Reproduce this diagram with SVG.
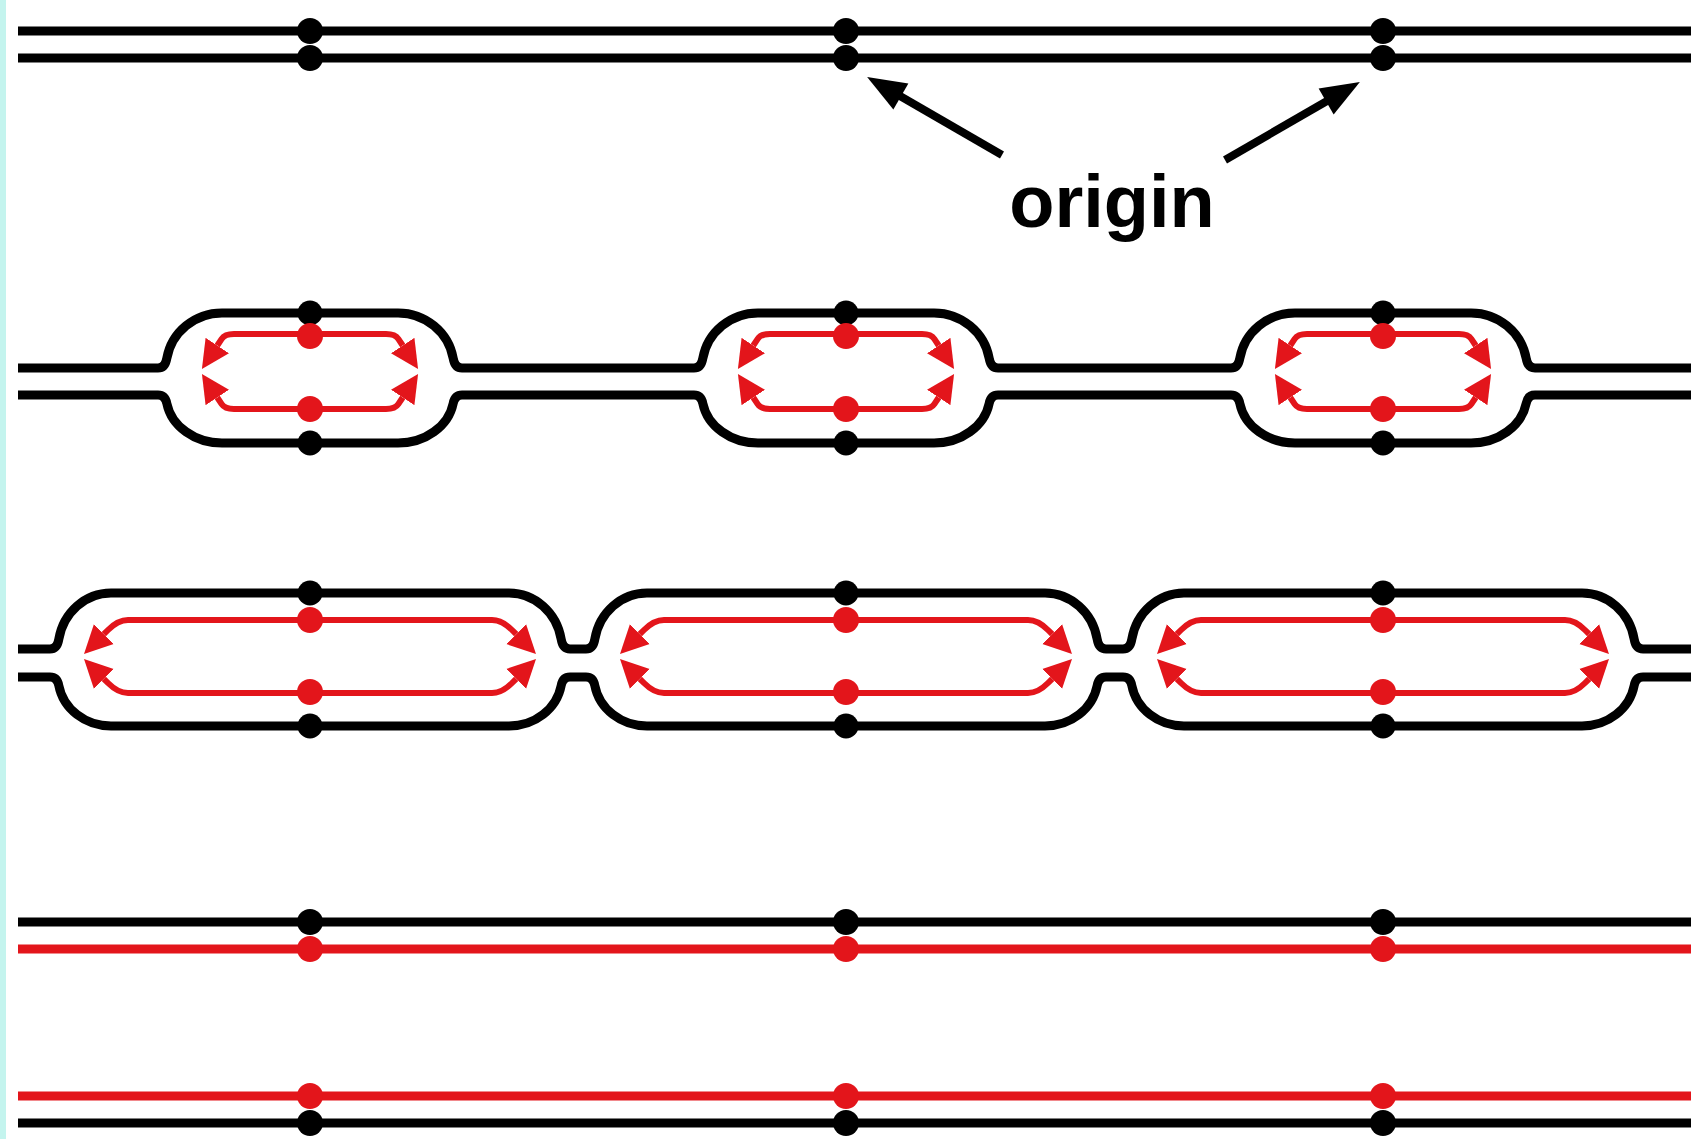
<svg xmlns="http://www.w3.org/2000/svg" width="1691" height="1139" viewBox="0 0 1691 1139">
<style>
.blk{fill:none;stroke:#000;stroke-width:9}
.red{fill:none;stroke:#e3151b;stroke-width:9}
.rl{fill:none;stroke:#e3151b;stroke-width:6;marker-end:url(#ra)}
.bd{fill:#000}
.rd{fill:#e3151b}
.arr{fill:none;stroke:#000;stroke-width:8;marker-end:url(#ba)}
.lbl{font-family:"Liberation Sans",Arial,sans-serif;font-weight:bold;font-size:74px;fill:#000}
</style>
<defs>
<marker id="ra" markerUnits="userSpaceOnUse" viewBox="0 -15 30 30" markerWidth="30" markerHeight="30" refX="0" refY="0" orient="auto">
<path d="M0,-14 L28,0 L0,14 Z" fill="#e3151b"/>
</marker>
<marker id="ba" markerUnits="userSpaceOnUse" viewBox="-2 -16 42 32" markerWidth="42" markerHeight="32" refX="0" refY="0" orient="auto">
<path d="M-1,-15 L38,0 L-1,15 Z" fill="#000"/>
</marker>
</defs>
<rect x="0" y="0" width="1691" height="1139" fill="#fff"/>
<rect x="0" y="0" width="6" height="1139" fill="#c4f4ee"/>

<g id="row1">
<line class="blk" x1="18" y1="31" x2="1691" y2="31"/>
<line class="blk" x1="18" y1="58" x2="1691" y2="58"/>
<circle class="bd" cx="310" cy="31" r="13"/><circle class="bd" cx="310" cy="58" r="13"/>
<circle class="bd" cx="846" cy="31" r="13"/><circle class="bd" cx="846" cy="58" r="13"/>
<circle class="bd" cx="1383" cy="31" r="13"/><circle class="bd" cx="1383" cy="58" r="13"/>
</g>

<g id="label-origin">
<text class="lbl" x="1112" y="227" text-anchor="middle">origin</text>
</g>

<g id="connectors">
<line class="arr" x1="1002" y1="155" x2="900" y2="96"/>
<line class="arr" x1="1225" y1="160" x2="1327" y2="101"/>
</g>

<g id="row2">
<path class="blk" d="M18,368 L158,368 Q165.1,368 166.8,358.4 A56 55 0 0 1 222,313 L398,313 A56 55 0 0 1 453.2,358.4 Q454.9,368 462,368 L694,368 Q701.1,368 702.8,358.4 A56 55 0 0 1 758,313 L934,313 A56 55 0 0 1 989.2,358.4 Q990.9,368 998,368 L1231,368 Q1238.1,368 1239.8,358.4 A56 55 0 0 1 1295,313 L1471,313 A56 55 0 0 1 1526.2,358.4 Q1527.9,368 1535,368 L1691,368"/>
<path class="blk" d="M18,395 L158,395 Q165.1,395 166.8,403.3 A56 48 0 0 0 222,443 L398,443 A56 48 0 0 0 453.2,403.3 Q454.9,395 462,395 L694,395 Q701.1,395 702.8,403.3 A56 48 0 0 0 758,443 L934,443 A56 48 0 0 0 989.2,403.3 Q990.9,395 998,395 L1231,395 Q1238.1,395 1239.8,403.3 A56 48 0 0 0 1295,443 L1471,443 A56 48 0 0 0 1526.2,403.3 Q1527.9,395 1535,395 L1691,395"/>
<g id="bubble2a">
<path class="rl" d="M310,334 L386,334 Q395.2,334 398.3,338.8 L402.7,345.5"/>
<path class="rl" d="M310,334 L234,334 Q224.8,334 221.7,338.8 L217.3,345.5"/>
<path class="rl" d="M310,409 L386,409 Q395.2,409 398.3,404.2 L402.7,397.5"/>
<path class="rl" d="M310,409 L234,409 Q224.8,409 221.7,404.2 L217.3,397.5"/>
<circle class="bd" cx="310" cy="313" r="12.5"/><circle class="bd" cx="310" cy="443" r="12.5"/>
<circle class="rd" cx="310" cy="336" r="13"/><circle class="rd" cx="310" cy="409" r="13"/>
</g>
<g id="bubble2b">
<path class="rl" d="M846,334 L922,334 Q931.2,334 934.3,338.8 L938.7,345.5"/>
<path class="rl" d="M846,334 L770,334 Q760.8,334 757.7,338.8 L753.3,345.5"/>
<path class="rl" d="M846,409 L922,409 Q931.2,409 934.3,404.2 L938.7,397.5"/>
<path class="rl" d="M846,409 L770,409 Q760.8,409 757.7,404.2 L753.3,397.5"/>
<circle class="bd" cx="846" cy="313" r="12.5"/><circle class="bd" cx="846" cy="443" r="12.5"/>
<circle class="rd" cx="846" cy="336" r="13"/><circle class="rd" cx="846" cy="409" r="13"/>
</g>
<g id="bubble2c">
<path class="rl" d="M1383,334 L1459,334 Q1468.2,334 1471.3,338.8 L1475.7,345.5"/>
<path class="rl" d="M1383,334 L1307,334 Q1297.8,334 1294.7,338.8 L1290.3,345.5"/>
<path class="rl" d="M1383,409 L1459,409 Q1468.2,409 1471.3,404.2 L1475.7,397.5"/>
<path class="rl" d="M1383,409 L1307,409 Q1297.8,409 1294.7,404.2 L1290.3,397.5"/>
<circle class="bd" cx="1383" cy="313" r="12.5"/><circle class="bd" cx="1383" cy="443" r="12.5"/>
<circle class="rd" cx="1383" cy="336" r="13"/><circle class="rd" cx="1383" cy="409" r="13"/>
</g>
</g>

<g id="row3">
<path class="blk" d="M18,649 L50,649 Q57.2,649 58.8,639.3 A53 56 0 0 1 111,593 L509,593 A53 56 0 0 1 561.2,639.3 Q562.8,649 570,649 L586,649 Q593.2,649 594.8,639.3 A53 56 0 0 1 647,593 L1045,593 A53 56 0 0 1 1097.2,639.3 Q1098.8,649 1106,649 L1123,649 Q1130.2,649 1131.8,639.3 A53 56 0 0 1 1184,593 L1582,593 A53 56 0 0 1 1634.2,639.3 Q1635.8,649 1643,649 L1691,649"/>
<path class="blk" d="M18,677 L50,677 Q57.2,677 58.8,685.5 A53 49 0 0 0 111,726 L509,726 A53 49 0 0 0 561.2,685.5 Q562.8,677 570,677 L586,677 Q593.2,677 594.8,685.5 A53 49 0 0 0 647,726 L1045,726 A53 49 0 0 0 1097.2,685.5 Q1098.8,677 1106,677 L1123,677 Q1130.2,677 1131.8,685.5 A53 49 0 0 0 1184,726 L1582,726 A53 49 0 0 0 1634.2,685.5 Q1635.8,677 1643,677 L1691,677"/>
<g id="bubble3a">
<path class="rl" d="M310,620 L492,620 Q502,620 512,630 L516.2,634.2"/>
<path class="rl" d="M310,620 L128,620 Q118,620 108,630 L103.8,634.2"/>
<path class="rl" d="M310,693 L492,693 Q502,693 512,683 L516.2,678.8"/>
<path class="rl" d="M310,693 L128,693 Q118,693 108,683 L103.8,678.8"/>
<circle class="bd" cx="310" cy="593" r="12.5"/><circle class="bd" cx="310" cy="726" r="12.5"/>
<circle class="rd" cx="310" cy="620" r="13"/><circle class="rd" cx="310" cy="692" r="13"/>
</g>
<g id="bubble3b">
<path class="rl" d="M846,620 L1028,620 Q1038,620 1048,630 L1052.2,634.2"/>
<path class="rl" d="M846,620 L664,620 Q654,620 644,630 L639.8,634.2"/>
<path class="rl" d="M846,693 L1028,693 Q1038,693 1048,683 L1052.2,678.8"/>
<path class="rl" d="M846,693 L664,693 Q654,693 644,683 L639.8,678.8"/>
<circle class="bd" cx="846" cy="593" r="12.5"/><circle class="bd" cx="846" cy="726" r="12.5"/>
<circle class="rd" cx="846" cy="620" r="13"/><circle class="rd" cx="846" cy="692" r="13"/>
</g>
<g id="bubble3c">
<path class="rl" d="M1383,620 L1565,620 Q1575,620 1585,630 L1589.2,634.2"/>
<path class="rl" d="M1383,620 L1201,620 Q1191,620 1181,630 L1176.8,634.2"/>
<path class="rl" d="M1383,693 L1565,693 Q1575,693 1585,683 L1589.2,678.8"/>
<path class="rl" d="M1383,693 L1201,693 Q1191,693 1181,683 L1176.8,678.8"/>
<circle class="bd" cx="1383" cy="593" r="12.5"/><circle class="bd" cx="1383" cy="726" r="12.5"/>
<circle class="rd" cx="1383" cy="620" r="13"/><circle class="rd" cx="1383" cy="692" r="13"/>
</g>
</g>

<g id="row4">
<line class="blk" x1="18" y1="922" x2="1691" y2="922"/>
<line class="red" x1="18" y1="949" x2="1691" y2="949"/>
<circle class="bd" cx="310" cy="922" r="13"/><circle class="rd" cx="310" cy="949" r="13"/>
<circle class="bd" cx="846" cy="922" r="13"/><circle class="rd" cx="846" cy="949" r="13"/>
<circle class="bd" cx="1383" cy="922" r="13"/><circle class="rd" cx="1383" cy="949" r="13"/>
</g>

<g id="row5">
<line class="red" x1="18" y1="1096" x2="1691" y2="1096"/>
<line class="blk" x1="18" y1="1123" x2="1691" y2="1123"/>
<circle class="rd" cx="310" cy="1096" r="13"/><circle class="bd" cx="310" cy="1123" r="13"/>
<circle class="rd" cx="846" cy="1096" r="13"/><circle class="bd" cx="846" cy="1123" r="13"/>
<circle class="rd" cx="1383" cy="1096" r="13"/><circle class="bd" cx="1383" cy="1123" r="13"/>
</g>
</svg>
